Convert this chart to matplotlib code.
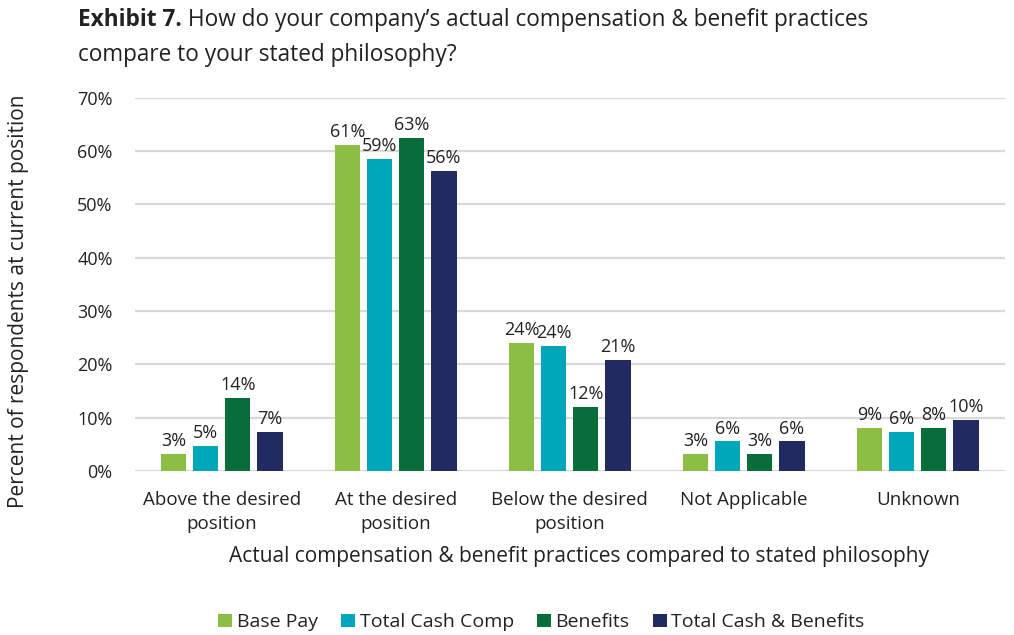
import numpy as np
import matplotlib
matplotlib.use("Agg")
import matplotlib.pyplot as plt

plt.rcParams['font.family'] = ['Open Sans', 'DejaVu Sans']

# data
categories = ["Above the desired\nposition", "At the desired\nposition",
              "Below the desired\nposition", "Not Applicable", "Unknown"]
series = ["Base Pay", "Total Cash Comp", "Benefits", "Total Cash & Benefits"]
base_pay = [3.2, 61.2, 24.1, 3.2, 8.1]
total_cash = [4.8, 58.5, 23.5, 5.6, 7.3]
benefits = [13.8, 62.5, 12.1, 3.2, 8.1]
cash_benefits = [7.3, 56.3, 20.8, 5.6, 9.6]
# printed labels (as shown on the chart)
base_pay_lbl = [3, 61, 24, 3, 9]
total_cash_lbl = [5, 59, 24, 6, 6]
benefits_lbl = [14, 63, 12, 3, 8]
cash_benefits_lbl = [7, 56, 21, 6, 10]

colors = ["#8cbd45", "#00a6ba", "#076d3b", "#222b61"]
txt = '#222222'

values = [base_pay, total_cash, benefits, cash_benefits]
labels = [base_pay_lbl, total_cash_lbl, benefits_lbl, cash_benefits_lbl]

fig = plt.figure(figsize=(10.14, 6.35), dpi=100)
ax = fig.add_axes([0.133, 0.258, 0.858, 0.588])

x = np.arange(len(categories))
step = 0.184
width = 0.145
for i, (vals, lbls) in enumerate(zip(values, labels)):
    pos = x + (i - 1.5) * step
    ax.bar(pos, vals, width=width, color=colors[i], label=series[i], zorder=3)
    for p, v, l in zip(pos, vals, lbls):
        ax.text(p, v + 0.7, f"{l}%", ha='center', va='bottom', fontsize=13, color=txt)

ax.set_ylim(0, 70)
ax.set_xlim(-0.5, len(categories) - 0.5)
ax.set_yticks(range(0, 71, 10))
ax.set_yticklabels([f"{t}%" for t in range(0, 71, 10)], fontsize=13, color=txt)
ax.set_xticks(x)
ax.set_xticklabels(categories, fontsize=13.5, color=txt, linespacing=1.45)
ax.tick_params(length=0)
ax.tick_params(axis='y', pad=16)
ax.tick_params(axis='x', pad=14)
ax.grid(axis='y', color='#d9d9d9', linewidth=1.6, zorder=0)
for s in ax.spines.values():
    s.set_visible(False)

ax.set_xlabel("Actual compensation & benefit practices compared to stated philosophy",
              fontsize=15, color=txt, labelpad=12)
ax.xaxis.set_label_coords(0.51, -0.2)
fig.text(0.018, 0.526, "Percent of respondents at current position", rotation=90,
         ha='center', va='center', fontsize=15, color=txt)

# title
t1 = fig.text(0.077, 0.968, "Exhibit 7.", fontsize=16.3, fontweight='bold',
              color=txt, va='center')
fig.canvas.draw()
ax.annotate(" How do your company\u2019s actual compensation & benefit practices",
            xy=(1, 0), xycoords=t1, va='bottom', fontsize=16.3, color=txt)
fig.text(0.077, 0.914, "compare to your stated philosophy?", fontsize=16.3,
         color=txt, va='center')

fig.legend(loc='center', bbox_to_anchor=(0.534, 0.02), ncol=4, frameon=False,
           fontsize=14, handlelength=0.7, handleheight=0.7, handletextpad=0.25,
           columnspacing=1.2, labelcolor=txt)

fig.savefig("out.png", dpi=100)
